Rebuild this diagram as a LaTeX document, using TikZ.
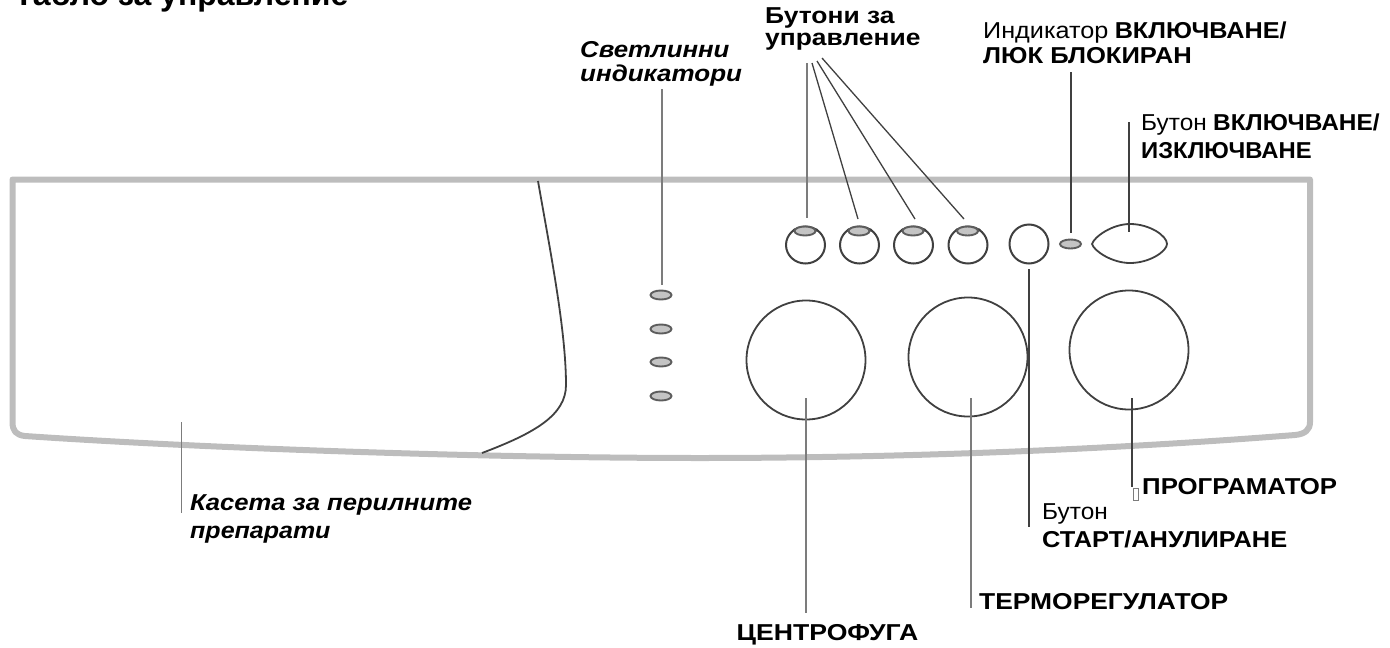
\documentclass[tikz,border=0pt]{standalone}
\usepackage{fontspec}
\setmainfont{Liberation Sans}
\usetikzlibrary{shapes.geometric}
\definecolor{panelgrey}{HTML}{BDBDBD}
\definecolor{ledgrey}{HTML}{C4C4C4}
\definecolor{inkgrey}{HTML}{404040}
\definecolor{softgrey}{HTML}{7C7C7C}
\newcommand{\rg}[2]{{\addfontfeature{FakeStretch=#1}#2}}
\newcommand{\bd}[2]{{\bfseries\addfontfeature{FakeStretch=#1}#2}}
\tikzset{
  panelline/.style={draw=panelgrey,line width=6pt,line join=round},
  inkline/.style={draw=inkgrey,line width=1.8pt},
  leader/.style={draw=inkgrey,line width=1.3pt},
  softleader/.style={draw=softgrey,line width=1.9pt},
  knob/.style={circle,draw=inkgrey,line width=1.8pt,fill=white,inner sep=0pt,minimum size=119pt},
  smallbtn/.style={ellipse,draw=inkgrey,line width=2pt,fill=white,inner sep=0pt,minimum width=39pt,minimum height=37pt},
  startbtn/.style={circle,draw=inkgrey,line width=2pt,fill=white,inner sep=0pt,minimum size=39pt},
  led/.style={ellipse,draw=inkgrey!85,line width=1.9pt,fill=ledgrey,inner sep=0pt,minimum width=21pt,minimum height=9pt},
  lbl/.style={inner sep=0pt,anchor=base west,text=black,font=\fontsize{23}{26}\selectfont},
  it/.style={lbl,font=\fontsize{23}{26}\selectfont\itshape},
}
\begin{document}
\begin{tikzpicture}[x=1pt,y=-1pt]
\useasboundingbox (0,0) rectangle (1390,648);
\clip (0,0) rectangle (1390,648);
% panel
\draw[panelline] (12.5,179.5) -- (1310,179.5) -- (1310,422) .. controls (1310,430) and (1305,434) .. (1295,435)
  .. controls (1130,448) and (920,458) .. (700,458) .. controls (480,458) and (200,448) .. (25,436)
  .. controls (16,435) and (12.5,431) .. (12.5,422) -- cycle;
\draw[inkline] (538,181) .. controls (550,250) and (566,330) .. (566,385) .. controls (566,415) and (535,433) .. (482,453);
% knobs
\node[knob] (kc) at (806,360) {};
\node[knob] (kt) at (968,357) {};
\node[knob] (kp) at (1129,350) {};
% buttons
\foreach \n/\x in {a/805.5,b/859.5,c/913.5,d/968}{
  \node[smallbtn] (btn\n) at (\x,245) {};
  \draw[inkline] (\x-12,229) .. controls (\x-6,237) and (\x+6,237) .. (\x+12,229);
  \node[led] (led\n) at (\x-0.5,231) {};
}
\node[startbtn] (start) at (1029,244) {};
\node[led] (pwrled) at (1070.5,244) {};
\draw[inkline] (1092,244) .. controls (1094,237) and (1112,224) .. (1130,224) .. controls (1150,224) and (1167,236) .. (1167,244)
  .. controls (1167,251) and (1150,263) .. (1130,263) .. controls (1112,263) and (1094,251) .. (1092,244) -- cycle;
\coordinate (pwr) at (1129,232);
\foreach \n/\y in {a/295,b/329,c/362,d/396}{
  \node[led] (ind\n) at (661,\y) {};
}
% labels
\node[lbl,font=\fontsize{32}{34}\selectfont\bfseries] (title) at (14,5) {Табло за управление};
\node[it] (tind) at (580,57) {\bd{1.122}{Светлинни}};
\node[it] (tind2) at (580,81) {\bd{1.13}{индикатори}};
\node[lbl] (tbtn) at (765,23) {\bd{1.148}{Бутони за}};
\node[lbl] (tbtn2) at (765,45) {\bd{1.148}{управление}};
\node[lbl] (tled) at (983,38) {\rg{1.096}{Индикатор} \bd{1.096}{ВКЛЮЧВАНЕ/}};
\node[lbl] (tled2) at (983,63) {\bd{1.113}{ЛЮК БЛОКИРАН}};
\node[lbl] (tpwr) at (1141,130) {\rg{1.061}{Бутон} \bd{1.061}{ВКЛЮЧВАНЕ/}};
\node[lbl] (tpwr2) at (1141,158) {\bd{1.035}{ИЗКЛЮЧВАНЕ}};
\node[lbl] (tprog) at (1142,494) {\bd{1.122}{ПРОГРАМАТОР}};
\node[lbl] (tstart) at (1042,519) {\rg{1.061}{Бутон}};
\node[lbl] (tstart2) at (1042,547) {\bd{1.104}{СТАРТ/АНУЛИРАНЕ}};
\node[lbl] (tterm) at (979,609) {\bd{1.148}{ТЕРМОРЕГУЛАТОР}};
\node[lbl] (tcent) at (736.5,640) {\bd{1.157}{ЦЕНТРОФУГА}};
\node[it] (tcas) at (190,510) {\bd{1.113}{Касета за перилните}};
\node[it] (tcas2) at (190,538) {\bd{1.087}{препарати}};
% free ends
\coordinate (e1) at (806.7,63);
\coordinate (e2) at (812,63);
\coordinate (e3) at (817,61);
\coordinate (e4) at (822,58);
\coordinate (b1) at (806.7,218);
\coordinate (b2) at (858,219);
\coordinate (b3) at (915,219);
\coordinate (b4) at (964,219);
\coordinate (eled) at (1071,72);
\coordinate (bled) at (1071,233);
\coordinate (epwr) at (1129,122);
\coordinate (estart) at (1029,527);
\coordinate (bstart) at (1029,269);
\coordinate (bprog) at (1132,398);
\coordinate (eprog) at (1132,487);
\coordinate (bterm) at (971,398);
\coordinate (eterm) at (971,608);
\coordinate (bcent) at (806,398);
\coordinate (ecent) at (806,613);
\coordinate (eind) at (662,89);
\coordinate (bind) at (662,285);
\coordinate (bcas) at (181.5,422);
\coordinate (ecas) at (181.5,513);
% connectors
\draw[softleader] (e1) -- (b1);
\draw[leader] (e2) -- (b2);
\draw[leader] (e3) -- (b3);
\draw[leader] (e4) -- (b4);
\draw[leader] (eled) -- (bled);
\draw[leader] (epwr) -- (pwr);
\draw[leader] (bstart) -- (estart);
\draw[leader] (bprog) -- (eprog);
\draw[softleader] (bterm) -- (eterm);
\draw[softleader] (bcent) -- (ecent);
\draw[softleader] (eind) -- (bind);
\draw[softleader] (bcas) -- (ecas);
% stray glyph box
\node[draw=softgrey,line width=0.7pt,inner sep=0pt,minimum width=4.5pt,minimum height=12pt] (glyph) at (1135.7,494) {};
\end{tikzpicture}
\end{document}
